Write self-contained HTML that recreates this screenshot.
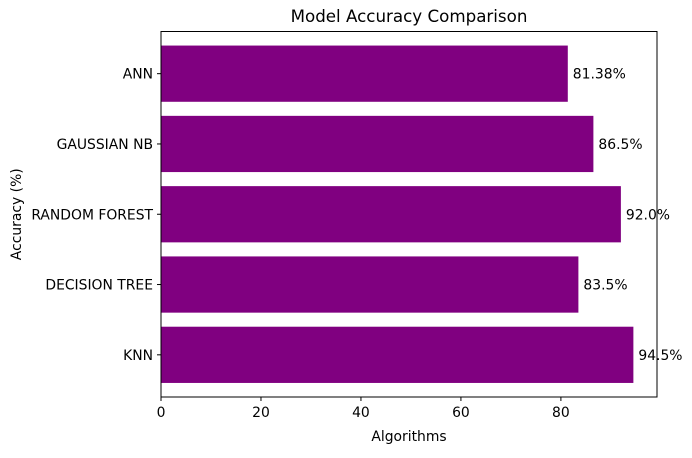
<!DOCTYPE html>
<html><head><meta charset="utf-8"><style>
body{margin:0;background:#fff;font-family:"Liberation Sans","DejaVu Sans",sans-serif;}
svg text{font-family:"DejaVu Sans","Liberation Sans",sans-serif;}
</style></head><body>
<svg id="chart" width="692" height="453">
<g id="bars"></g>
<g id="axes"></g>
</svg>
<script>
const categories = ["KNN","DECISION TREE","RANDOM FOREST","GAUSSIAN NB","ANN"];
const accuracies = [94.5, 83.5, 92.0, 86.5, 81.38];
const valueLabels = ["94.5%","83.5%","92.0%","86.5%","81.38%"];
const xTicks = [0,20,40,60,80];

const L=161,R=657,T=31.5,B=397;
const xMax=99.225;
const x=v=>L+(v/xMax)*(R-L);
const yMin=-0.6,yMax=4.6;
const y=i=>B-(i-yMin)/(yMax-yMin)*(B-T);
const bh=0.8*(B-T)/(yMax-yMin);
const NS="http://www.w3.org/2000/svg";
const svg=document.getElementById('chart');
const bars=document.getElementById('bars');
const axes=document.getElementById('axes');
function mk(tag,attrs,parent){const e=document.createElementNS(NS,tag);for(const k in attrs)e.setAttribute(k,attrs[k]);parent.appendChild(e);return e;}
const FS=13.9;
categories.forEach((c,i)=>{
  const r=mk('rect',{x:x(0),y:y(i)-bh/2,width:x(accuracies[i])-x(0),height:bh,fill:'#800080'},bars);
  
  
  const t=mk('text',{x:x(accuracies[i])+5,y:y(i)+5,'font-size':FS,fill:'#000'},bars);
  t.textContent=valueLabels[i];
  
  
  mk('line',{x1:L-4,x2:L,y1:y(i),y2:y(i),stroke:'#000','stroke-width':1},axes);
  const yl=mk('text',{x:L-8,y:y(i)+5,'font-size':FS,'text-anchor':'end'},axes);
  yl.textContent=c;
  
  
});
xTicks.forEach(v=>{
  mk('line',{x1:x(v),x2:x(v),y1:B,y2:B+4,stroke:'#000','stroke-width':1},axes);
  const t=mk('text',{x:x(v),y:B+20,'font-size':FS,'text-anchor':'middle'},axes);
  t.textContent=v;
  
  
});
const frame=mk('rect',{x:L,y:T,width:R-L,height:B-T,fill:'none',stroke:'#000','stroke-width':1},axes);


const title=mk('text',{x:(L+R)/2,y:22,'font-size':16.7,'text-anchor':'middle'},axes);
title.textContent='Model Accuracy Comparison';


const xl=mk('text',{x:(L+R)/2,y:441,'font-size':FS,'text-anchor':'middle'},axes);
xl.textContent='Algorithms';


const ylab=mk('text',{x:21,y:(T+B)/2,'font-size':FS,'text-anchor':'middle',transform:'rotate(-90 21 '+((T+B)/2)+')'},axes);
ylab.textContent='Accuracy (%)';


</script>
</body></html>
